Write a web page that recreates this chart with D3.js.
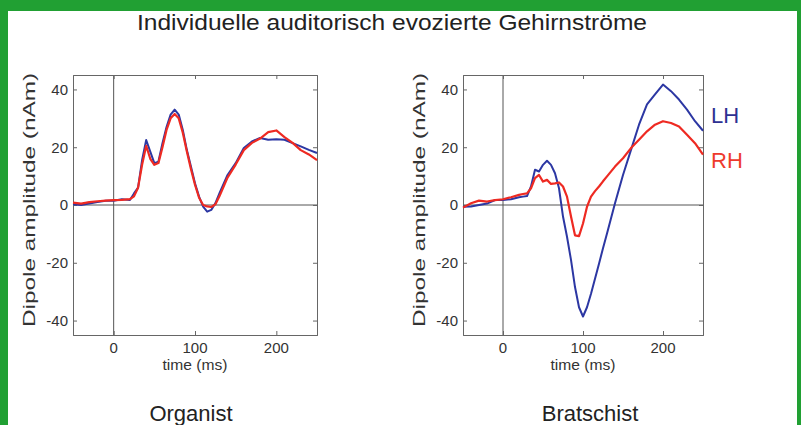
<!DOCTYPE html>
<html><head><meta charset="utf-8">
<script src="https://cdn.jsdelivr.net/npm/d3@7"></script>
<style>body{margin:0;background:#fff}svg{display:block}text{font-family:"Liberation Sans",Arial,sans-serif}</style>
</head><body><svg id="c" width="801" height="425"></svg>
<script>
const title = "Individuelle auditorisch evozierte Gehirnströme";
const panelNames = ["Organist", "Bratschist"];
const seriesNames = ["LH", "RH"];
const xTicks = [0, 100, 200];
const yTicks = [-40, -20, 0, 20, 40];
const times = [-50,-40,-30,-20,-10,0,10,20,25,30,35,40,45,50,55,60,65,70,75,80,85,90,95,100,105,110,115,120,125,130,140,150,160,170,180,190,200,210,220,230,240,250];
const organistLH = [0.3,0,0.5,1,1.5,1.5,2,1.7,4,6,15.6,22.5,18.5,14.5,15,21.4,27,31.3,33,31.3,26,19,13.3,7.5,2.9,-0.6,-2.3,-1.7,0.6,4,10.4,14.5,19.7,22,23.2,22.6,22.8,22.6,21.4,20.3,19.1,18];
const organistRH = [0.8,0.5,1,1.3,1.5,1.7,1.8,2,3,6,14,20.5,16,13.9,14.5,20,26,30,31.5,30,25,18.5,12.5,7,2.5,0,-0.5,-0.7,0.2,3,9.5,14,19,21.5,23,25.2,25.8,23.5,21.5,19,17.5,15.5];
const bratschistLH = [-0.6,-0.5,0,0.5,1.7,1.7,2,2.7,2.9,3.1,6.4,12.2,11.6,13.9,15.3,13.9,11,5.8,-4,-11,-19,-28.4,-35.4,-38.6,-35.4,-30.7,-25.5,-20.3,-15,-9.9,0.6,10.4,19.1,27.8,34.8,38.3,41.7,39.4,36.5,33,29,25.7];
const bratschistRH = [-0.9,0.6,1.5,1.2,1.7,2,2.7,3.5,3.8,4,5.8,9.3,10.4,8.1,8.7,7.3,7.5,7.8,6.4,2.9,-4,-10.5,-10.8,-6.4,-0.6,2.9,4.8,6.4,8.2,9.9,13.3,16.2,19.7,22.6,25.5,27.8,29,28.4,27.2,24.3,21.4,17.4];

const svg = d3.select("#c");
const blue = "#2c37a3", red = "#ee2a22";
svg.append("rect").attr("width",801).attr("height",425).attr("fill","#21a033");
svg.append("rect").attr("x",8).attr("y",11).attr("width",789).attr("height",414).attr("fill","#fff");

svg.append("text").attr("x",392).attr("y",30).attr("text-anchor","middle")
  .attr("font-size",22).attr("fill","#222").attr("textLength",510).attr("lengthAdjust","spacingAndGlyphs").text(title);

const panels = [
  {name: panelNames[0], x0: 73, x1: 317, lh: organistLH, rh: organistRH, labX: 191, ylabX: 35},
  {name: panelNames[1], x0: 463, x1: 703, lh: bratschistLH, rh: bratschistRH, labX: 590, ylabX: 425}
];
const yTop = 75, yBot = 335;

panels.forEach((p) => {
  const x = d3.scaleLinear().domain([-50, 250]).range([p.x0, p.x1]);
  const y = d3.scaleLinear().domain([-45, 45]).range([yBot, yTop]);
  const g = svg.append("g");
  const axc = "#666";
  g.append("line").attr("x1",x(-50)).attr("x2",x(250)).attr("y1",y(0)).attr("y2",y(0)).attr("stroke","#555").attr("stroke-width",1);
  g.append("line").attr("x1",x(0)).attr("x2",x(0)).attr("y1",yTop).attr("y2",yBot).attr("stroke","#555").attr("stroke-width",1);
  const ax = [
    d3.axisBottom(x).tickValues(xTicks).tickSize(-4).tickFormat(""),
    d3.axisTop(x).tickValues(xTicks).tickSize(-4).tickFormat(""),
    d3.axisLeft(y).tickValues(yTicks).tickSize(-4).tickFormat(""),
    d3.axisRight(y).tickValues(yTicks).tickSize(-4).tickFormat("")
  ];
  const tr = [`translate(0,${yBot})`, `translate(0,${yTop})`, `translate(${p.x0},0)`, `translate(${p.x1},0)`];
  ax.forEach((a, i) => {
    const ag = g.append("g").attr("transform", tr[i]).call(a);
    ag.selectAll("path,line").attr("stroke", axc).attr("stroke-width",1);
  });
  g.selectAll(".xl").data(xTicks).join("text").attr("x", d => x(d)).attr("y", 353)
    .attr("text-anchor","middle").attr("font-size",15).attr("fill","#333").text(d => d);
  g.selectAll(".yl").data(yTicks).join("text").attr("x", p.x0 - 5).attr("y", d => y(d)).attr("dy","0.36em")
    .attr("text-anchor","end").attr("font-size",15).attr("fill","#333").text(d => d);
  g.append("text").attr("x",(p.x0+p.x1)/2).attr("y",370).attr("text-anchor","middle").attr("font-size",14)
    .attr("fill","#333").attr("textLength",65).attr("lengthAdjust","spacingAndGlyphs").text("time (ms)");
  g.append("text").attr("transform",`translate(${p.ylabX},200) rotate(-90)`).attr("text-anchor","middle")
    .attr("font-size",17).attr("fill","#333").attr("textLength",254).attr("lengthAdjust","spacingAndGlyphs").text("Dipole amplitude (nAm)");
  const line = d3.line().x((d,i) => x(times[i])).y(d => y(d));
  g.append("path").attr("d", line(p.lh)).attr("fill","none").attr("stroke",blue).attr("stroke-width",2).attr("stroke-linejoin","round");
  g.append("path").attr("d", line(p.rh)).attr("fill","none").attr("stroke",red).attr("stroke-width",2.2).attr("stroke-linejoin","round");
  svg.append("text").attr("x",p.labX).attr("y",421).attr("text-anchor","middle").attr("font-size",22).attr("fill","#222").text(p.name);
});
svg.append("text").attr("x",711).attr("y",123).attr("font-size",22).attr("fill","#2e3192").text(seriesNames[0]);
svg.append("text").attr("x",711).attr("y",168).attr("font-size",22).attr("fill","#ee3a2c").text(seriesNames[1]);
</script></body></html>
